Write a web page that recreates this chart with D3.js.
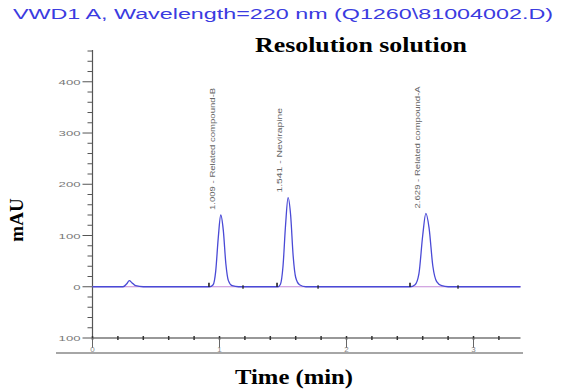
<!DOCTYPE html>
<html>
<head>
<meta charset="utf-8">
<script src="https://cdn.jsdelivr.net/npm/d3@7"></script>
<style>
  html, body { margin: 0; padding: 0; background: #fff; }
  svg { display: block; }
</style>
</head>
<body>
<svg id="chart" width="565" height="391"></svg>
<script>
// ---- data ----
const traceTime = [0.00, 0.24, 0.27, 0.29, 0.31, 0.34, 0.40,
  0.92, 0.95, 0.97, 0.99, 1.01, 1.03, 1.05, 1.07, 1.10, 1.15,
  1.46, 1.48, 1.50, 1.52, 1.54, 1.56, 1.58, 1.60, 1.63, 1.68,
  2.50, 2.54, 2.57, 2.60, 2.625, 2.65, 2.68, 2.71, 2.75, 2.80, 3.37];
const traceMAU = [0, 0, 6, 12, 8, 2, 0,
  0, 4, 30, 95, 140, 110, 45, 12, 2, 0,
  0, 5, 40, 120, 174, 140, 60, 18, 4, 0,
  0, 4, 25, 100, 143, 115, 40, 10, 2, 0, 0];
const peakTimes = [1.009, 1.541, 2.629];
const peakHeights = [140, 174, 143];
const peakNames = ["1.009 - Related compound-B", "1.541 - Nevirapine", "2.629 - Related compound-A"];
const peakStarts = [0.917, 1.453, 2.50];
const peakEnds = [1.185, 1.776, 2.878];
const xTickValues = [0, 1, 2, 3];
const yTickValues = [-100, 0, 100, 200, 300, 400];
const yTickLabels = ["100", "0", "100", "200", "300", "400"];
const titleText = "VWD1 A, Wavelength=220 nm (Q1260\\81004002.D)";
const subTitle = "Resolution solution";
const xLabel = "Time (min)";
const yLabel = "mAU";

// ---- scales ----
const svg = d3.select("#chart");
const x = d3.scaleLinear().domain([0, 3.37]).range([92.5, 520.5]);
const y = d3.scaleLinear().domain([-100, 462]).range([338, 50]);

// titles
svg.append("text").attr("x", 13).attr("y", 19)
  .attr("textLength", 540).attr("lengthAdjust", "spacingAndGlyphs")
  .attr("font-family", "Liberation Sans, Arial, sans-serif").attr("font-size", 14)
  .attr("fill", "#3b3be0").text(titleText);
svg.append("text").attr("x", 255).attr("y", 52)
  .attr("textLength", 212).attr("lengthAdjust", "spacingAndGlyphs")
  .attr("font-family", "Liberation Serif, Times New Roman, serif").attr("font-weight", "bold")
  .attr("font-size", 20).attr("fill", "#000").text(subTitle);
svg.append("text").attr("x", 294).attr("y", 384).attr("text-anchor", "middle")
  .attr("textLength", 118).attr("lengthAdjust", "spacingAndGlyphs")
  .attr("font-family", "Liberation Serif, Times New Roman, serif").attr("font-weight", "bold")
  .attr("font-size", 20).attr("fill", "#000").text(xLabel);
svg.append("text").attr("transform", "translate(23,220) rotate(-90)").attr("text-anchor", "middle")
  .attr("font-family", "Liberation Serif, Times New Roman, serif").attr("font-weight", "bold")
  .attr("font-size", 19).attr("fill", "#000").text(yLabel);

// ---- y axis ----
const axisColor = "#555";
const gy = svg.append("g").attr("transform", `translate(${x(0)},0)`);
gy.append("line").attr("y1", y(-100)).attr("y2", 50).attr("stroke", axisColor).attr("stroke-width", 1.2);
const yMinor = d3.range(-100, 461, 20);
gy.selectAll("line.minor").data(yMinor).join("line").attr("class", "minor")
  .attr("x1", d => yTickValues.includes(d) ? -10 : -5).attr("x2", 0)
  .attr("y1", d => y(d)).attr("y2", d => y(d))
  .attr("stroke", axisColor).attr("stroke-width", 1);
gy.selectAll("text").data(yTickValues).join("text")
  .attr("x", -12).attr("y", d => y(d) + 3).attr("text-anchor", "end")
  .attr("font-family", "Liberation Sans, Arial, sans-serif").attr("font-size", 8)
  .attr("textLength", (d, i) => yTickLabels[i].length * 7.3).attr("lengthAdjust", "spacingAndGlyphs")
  .attr("fill", "#777").text((d, i) => yTickLabels[i]);

// ---- x axis ----
const gx = svg.append("g").attr("transform", `translate(0,${y(-100)})`);
gx.append("line").attr("x1", x(0)).attr("x2", x(3.37)).attr("stroke", "#333").attr("stroke-width", 1.2);
const xMinor = d3.range(0, 3.37, 0.2);
gx.selectAll("line.minor").data(xMinor).join("line")
  .attr("x1", d => x(d)).attr("x2", d => x(d))
  .attr("y1", -2).attr("y2", 2).attr("stroke", "#333").attr("stroke-width", 1.5);
gx.selectAll("line.major").data(xTickValues).join("line").attr("class", "major")
  .attr("x1", d => x(d)).attr("x2", d => x(d))
  .attr("y1", 0).attr("y2", 10).attr("stroke", "#666").attr("stroke-width", 1);
gx.selectAll("text").data(xTickValues).join("text")
  .attr("x", d => x(d)).attr("y", 14).attr("text-anchor", "middle")
  .attr("font-family", "Liberation Sans, Arial, sans-serif").attr("font-size", 8)
  .attr("fill", "#888").text(d => d);
svg.append("line").attr("x1", 56).attr("x2", 523).attr("y1", 353).attr("y2", 353)
  .attr("stroke", "#888").attr("stroke-width", 1.5);

// ---- baseline + trace ----
svg.append("line").attr("x1", x(0)).attr("x2", x(3.37)).attr("y1", y(0)).attr("y2", y(0))
  .attr("stroke", "#c48ad8").attr("stroke-width", 1.2);
const pts = traceTime.map((t, i) => [t, traceMAU[i]]);
const line = d3.line().x(d => x(d[0])).y(d => y(d[1])).curve(d3.curveMonotoneX);
svg.append("path").datum(pts).attr("d", line)
  .attr("fill", "none").attr("stroke", "#4a4ad6").attr("stroke-width", 1.3);

// integration markers
svg.selectAll("line.start").data(peakStarts).join("line").attr("class", "start")
  .attr("x1", d => x(d)).attr("x2", d => x(d)).attr("y1", y(0)).attr("y2", y(0) - 4)
  .attr("stroke", "#111").attr("stroke-width", 1.5);
svg.selectAll("line.end").data(peakEnds).join("line").attr("class", "end")
  .attr("x1", d => x(d)).attr("x2", d => x(d)).attr("y1", y(0) - 1.5).attr("y2", y(0) + 2)
  .attr("stroke", "#222").attr("stroke-width", 1.3);

// peak labels
svg.selectAll("text.peak").data(peakTimes).join("text").attr("class", "peak")
  .attr("transform", (d, i) => `translate(${x(d) - 6},${y(peakHeights[i]) - 5}) rotate(-90)`)
  .attr("font-family", "Liberation Sans, Arial, sans-serif").attr("font-size", 7)
  .attr("textLength", (d, i) => peakNames[i].length * 4.7).attr("lengthAdjust", "spacingAndGlyphs")
  .attr("fill", "#666").text((d, i) => peakNames[i]);
</script>
</body>
</html>
